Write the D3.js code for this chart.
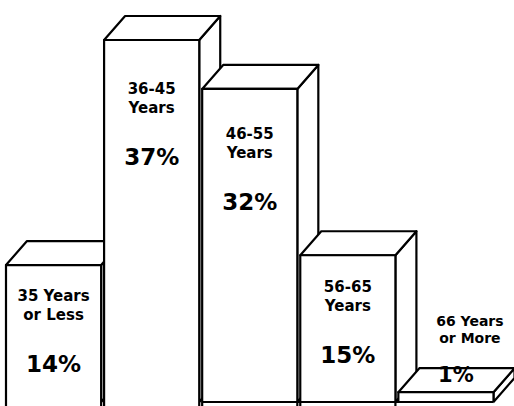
<!DOCTYPE html>
<html>
<head>
<meta charset="utf-8">
<script src="https://cdn.jsdelivr.net/npm/d3@7"></script>
<style>
  html, body { margin: 0; padding: 0; background: #fff; }
  svg { display: block; }
  text { font-family: "DejaVu Sans", "Liberation Sans", sans-serif; font-weight: bold; fill: #000; }
</style>
</head>
<body>
<svg id="chart" width="514" height="406"></svg>
<script>
// ---- data ----
const categories = ["35 Years or Less", "36-45 Years", "46-55 Years", "56-65 Years", "66 Years or More"];
const labelLines = [["35 Years", "or Less"], ["36-45", "Years"], ["46-55", "Years"], ["56-65", "Years"], ["66 Years", "or More"]];
const values = [14, 37, 32, 15, 1];
const valueLabels = ["14%", "37%", "32%", "15%", "1%"];

// ---- layout ----
const W = 514, H = 406;
const y0 = 402;               // baseline (front)
const dx = 21, dy = -24;      // 3D depth offset

const svg = d3.select("#chart");

const x = d3.scaleBand()
  .domain(categories)
  .range([6, 493.5])
  .paddingInner(0.03)
  .paddingOuter(0);

const y = d3.scaleLinear()
  .domain([0, 37])
  .range([y0, 40]);

const bw = x.bandwidth();
const line = d3.line();

const data = categories.map((c, i) => ({ cat: c, lines: labelLines[i], v: values[i], lab: valueLabels[i] }));

const bars = svg.selectAll("g.bar")
  .data(data)
  .join("g")
  .attr("class", "bar");

const strokeStyle = sel => sel
  .attr("fill", "#fff")
  .attr("stroke", "#000")
  .attr("stroke-width", 2.2)
  .attr("stroke-linejoin", "round");

// right side face
bars.append("path")
  .attr("d", d => {
    const xr = x(d.cat) + bw, yt = y(d.v);
    return line([[xr, yt], [xr + dx, yt + dy], [xr + dx, y0 + dy], [xr, y0]]) + "Z";
  })
  .call(strokeStyle);

// top face
bars.append("path")
  .attr("d", d => {
    const xl = x(d.cat), xr = xl + bw, yt = y(d.v);
    return line([[xl, yt], [xl + dx, yt + dy], [xr + dx, yt + dy], [xr, yt]]) + "Z";
  })
  .call(strokeStyle);

// front face: fill, then left/top/right edges
bars.append("rect")
  .attr("x", d => x(d.cat))
  .attr("y", d => y(d.v))
  .attr("width", bw)
  .attr("height", d => y0 - y(d.v) + 10)
  .attr("fill", "#fff");

bars.append("path")
  .attr("d", d => {
    const xl = x(d.cat), xr = xl + bw, yt = y(d.v);
    const small = (y0 - yt) < 40;
    const yb = small ? y0 : H + 4;
    return line([[xl, yb], [xl, yt], [xr, yt], [xr, yb]]);
  })
  .attr("fill", "none")
  .attr("stroke", "#000")
  .attr("stroke-width", 2.2)
  .attr("stroke-linejoin", "round");

// baseline under the right-hand bars
svg.append("line")
  .attr("x1", x(categories[2]))
  .attr("x2", x(categories[4]) + bw)
  .attr("y1", y0).attr("y2", y0)
  .attr("stroke", "#000")
  .attr("stroke-width", 2.2);

// labels
bars.each(function(d) {
  const g = d3.select(this);
  const xl = x(d.cat), yt = y(d.v), h = y0 - yt;
  if (h >= 40) {
    const cx = xl + bw / 2;
    const l1 = yt + 25 + 0.08 * h;
    g.append("text").attr("x", cx).attr("y", l1).attr("text-anchor", "middle")
      .attr("font-size", 15).text(d.lines[0]);
    g.append("text").attr("x", cx).attr("y", l1 + 19).attr("text-anchor", "middle")
      .attr("font-size", 15).text(d.lines[1]);
    g.append("text").attr("x", cx).attr("y", l1 + 71).attr("text-anchor", "middle")
      .attr("font-size", 23).text(d.lab);
  } else {
    const cx = xl + bw / 2 + 20;
    const pb = yt - 10;
    g.append("text").attr("x", cx + 4).attr("y", pb - 56).attr("text-anchor", "middle")
      .attr("font-size", 14).text(d.lines[0]);
    g.append("text").attr("x", cx + 4).attr("y", pb - 39).attr("text-anchor", "middle")
      .attr("font-size", 14).text(d.lines[1]);
    g.append("text").attr("x", cx - 10).attr("y", pb).attr("text-anchor", "middle")
      .attr("font-size", 21).text(d.lab);
  }
});
</script>
</body>
</html>
